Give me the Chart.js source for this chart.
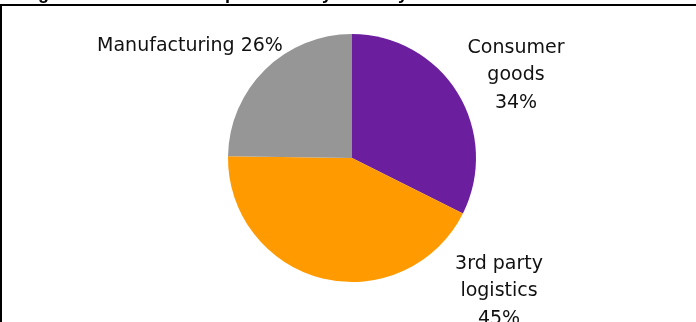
<!DOCTYPE html>
<html>
<head>
<meta charset="utf-8">
<script src="https://cdn.jsdelivr.net/npm/chart.js@4/dist/chart.umd.min.js"></script>
<style>
  html, body { margin: 0; padding: 0; background: #fff; }
  canvas { display: block; }
</style>
</head>
<body>
<canvas id="chart" width="696" height="322"></canvas>
<script>
// Data
const categories = [['Consumer', 'goods'], ['3rd party', 'logistics'], ['Manufacturing']];
const shares = [34, 45, 26];
const sliceColors = ['#6B1E9E', '#FF9B00', '#969696'];

// Label placement relative to the pie centre (first baseline)
const labelOffsets = [[164, -105], [147, 111], [-162, -107]];
const lineHeight = 27.3;

const titleText = 'Figure 2: Number of respondents by industry';

// Frame + cut-off title + outside labels
const decorations = {
  id: 'decorations',
  afterDraw(chart) {
    const c = chart.ctx;
    c.save();
    c.fillStyle = '#000';
    c.font = 'bold 18px "Liberation Sans", Arial, sans-serif';
    c.textBaseline = 'alphabetic';
    c.textAlign = 'left';
    c.fillText(titleText, 22, -1);
    c.fillRect(0, 4, chart.width, 2);
    c.fillRect(0, 4, 2, chart.height - 4);

    const arc = chart.getDatasetMeta(0).data[0];
    const cx = arc.x, cy = arc.y;
    c.font = '19px "DejaVu Sans", sans-serif';
    c.textAlign = 'center';
    c.fillStyle = '#111';
    categories.forEach((lines, i) => {
      const pct = shares[i] + '%';
      const rows = lines.length === 1 ? [lines[0] + ' ' + pct] : lines.concat([pct]);
      const [dx, dy] = labelOffsets[i];
      rows.forEach((t, j) => c.fillText(t, cx + dx, cy + dy + j * lineHeight));
    });
    c.restore();
  }
};

new Chart(document.getElementById('chart'), {
  type: 'pie',
  data: {
    labels: categories.map(l => l.join(' ')),
    datasets: [{
      data: shares,
      backgroundColor: sliceColors,
      borderWidth: 0
    }]
  },
  options: {
    responsive: false,
    animation: false,
    layout: { padding: { top: 34, bottom: 40, left: 100, right: 92 } },
    plugins: {
      legend: { display: false },
      tooltip: { enabled: false }
    }
  },
  plugins: [decorations]
});
</script>
</body>
</html>
